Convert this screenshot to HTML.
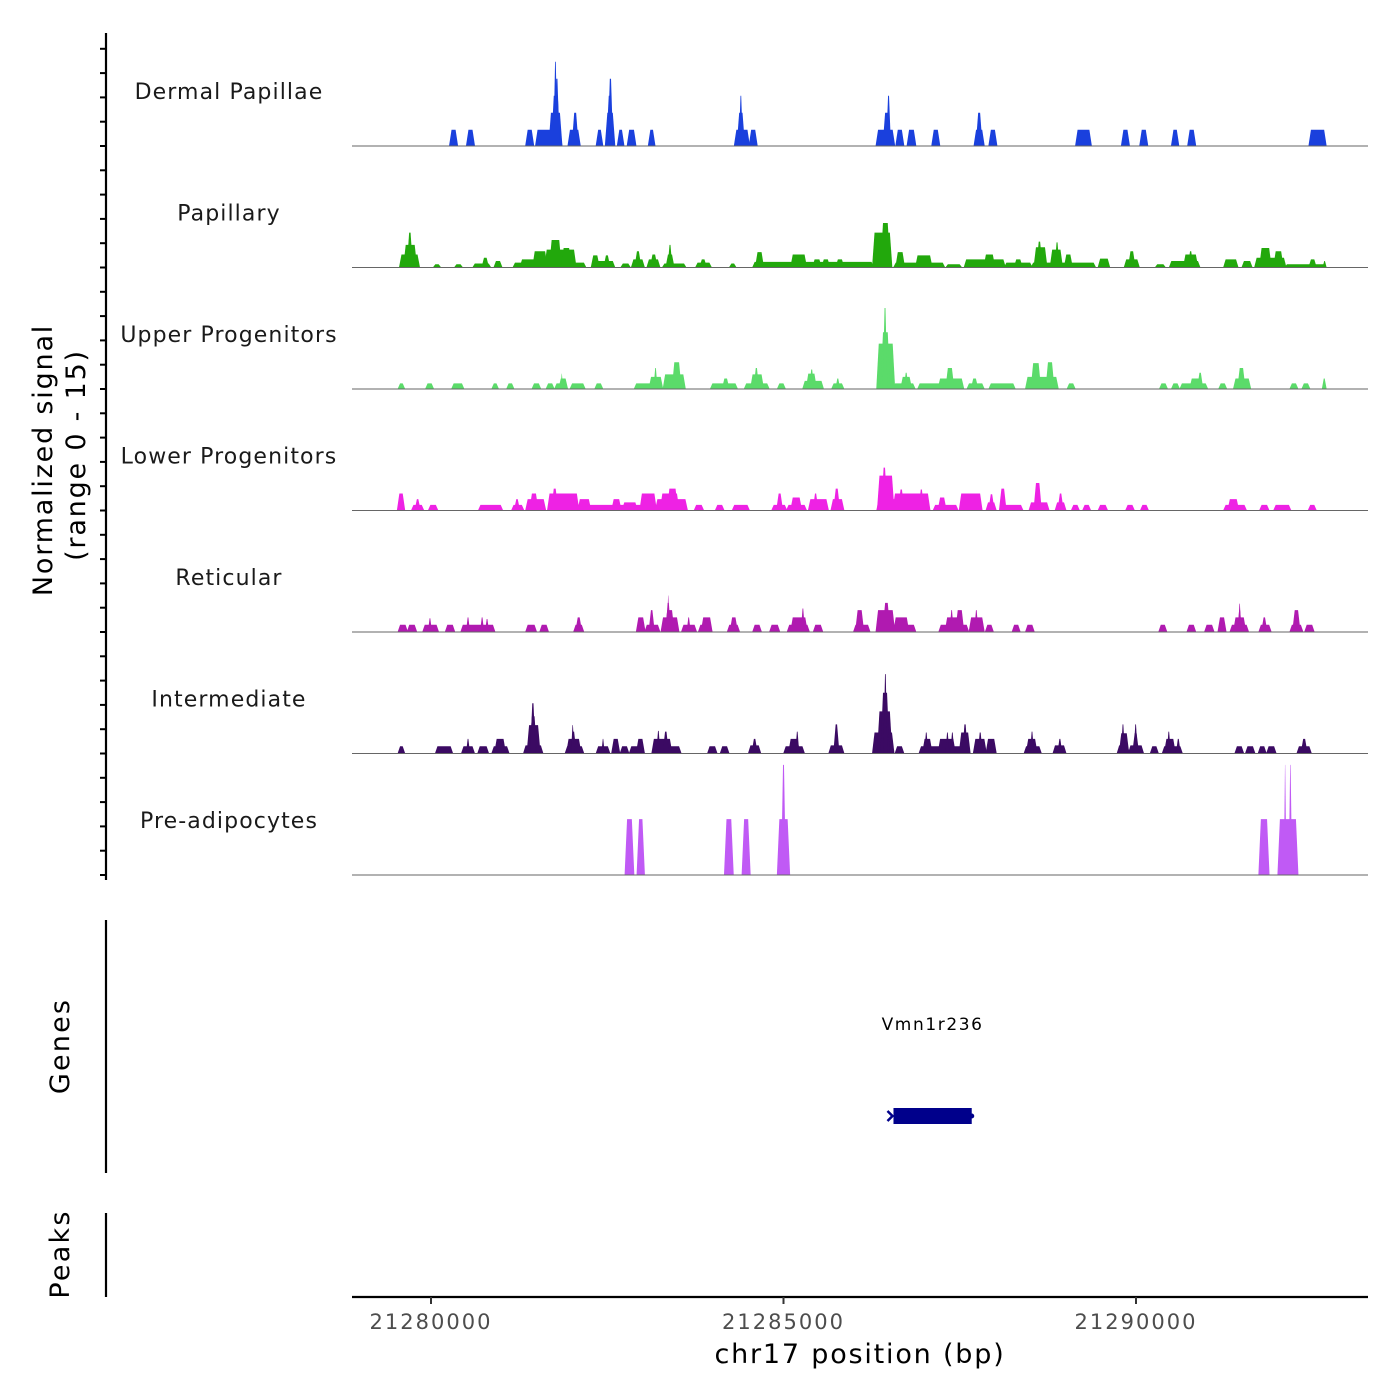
<!DOCTYPE html>
<html><head><meta charset="utf-8"><style>
body{margin:0;background:#fff;}
svg{display:block;font-family:"DejaVu Sans","Liberation Sans",sans-serif;}
</style></head><body>
<svg id="chart" width="1400" height="1400" viewBox="0 0 1400 1400" xmlns="http://www.w3.org/2000/svg"></svg>
<script>
const START_BP = 21280000;
const trackNames = ["Dermal Papillae","Papillary","Upper Progenitors","Lower Progenitors","Reticular","Intermediate","Pre-adipocytes"];
const trackColors = ["#1A40DD","#22A80C","#5BDB6A","#EE22E4","#B01AB0","#3B0A63","#C05AF5"];
const xTicks = [21280000,21285000,21290000];
const xTickLabels = ["21280000","21285000","21290000"];
const yRange = [0,15];
const yTickVals = [0,3,6,9,12,15];
const geneName = "Vmn1r236";
const geneStartKb = 6.56, geneEndKb = 7.67;
// segments: [start kb offset, end kb offset, signal]
const dermal = [[0.27,0.37,2],[0.51,0.61,2],[1.35,1.45,2],[1.49,1.85,2],[1.68,1.85,4.1],[1.72,1.82,6.2],[1.76,1.81,8.3],[1.75,1.78,10.4],[1.95,2.11,2],[2.01,2.08,4.1],[2.35,2.43,2],[2.48,2.60,4.1],[2.50,2.57,6.2],[2.52,2.57,8.3],[2.65,2.73,2],[2.79,2.90,2],[3.09,3.17,2],[4.31,4.51,2],[4.35,4.44,4.1],[4.38,4.41,6.2],[4.52,4.62,2],[6.32,6.57,2],[6.42,6.51,4.1],[6.47,6.51,6.2],[6.60,6.70,2],[6.76,6.87,2],[7.11,7.21,2],[7.71,7.84,2],[7.74,7.81,4.1],[7.92,8.02,2],[9.15,9.36,2],[9.80,9.90,2],[10.06,10.16,2],[10.51,10.60,2],[10.74,10.84,2],[12.46,12.69,2]];
const papillary = [[-0.44,-0.17,1.6],[-0.38,-0.21,2.8],[-0.33,-0.27,4.3],[0.04,0.13,0.4],[0.34,0.44,0.4],[0.60,0.84,0.5],[0.73,0.81,1.2],[0.90,1.00,0.8],[1.17,2.19,0.6],[1.27,1.62,1.0],[1.45,1.64,2.0],[1.62,2.05,2.2],[1.69,1.84,3.4],[1.86,1.98,2.4],[2.28,2.60,0.8],[2.28,2.38,1.5],[2.46,2.53,1.5],[2.70,2.82,0.5],[2.85,3.02,1.0],[2.90,2.97,2.0],[3.07,3.24,1.0],[3.12,3.20,1.6],[3.29,3.61,0.5],[3.34,3.44,1.6],[3.37,3.41,2.8],[3.76,3.97,0.6],[3.82,3.90,1.0],[4.24,4.32,0.5],[4.57,6.27,0.7],[4.61,4.71,1.9],[5.11,5.32,1.6],[5.42,5.53,1.0],[5.55,5.65,1.0],[5.75,5.85,1.0],[6.27,6.53,4.3],[6.39,6.50,5.5],[6.57,7.28,0.6],[6.60,6.71,1.9],[6.88,7.10,1.5],[7.31,7.52,0.4],[7.57,8.14,1.0],[7.85,7.99,1.6],[8.14,8.52,0.6],[8.28,8.38,1.0],[8.52,9.42,0.6],[8.56,8.73,2.5],[8.60,8.66,3.2],[8.79,8.95,2.2],[8.86,8.90,3.1],[8.99,9.09,1.6],[9.47,9.62,1.1],[9.84,10.04,1.0],[9.90,9.98,2.0],[10.28,10.41,0.4],[10.48,10.90,0.8],[10.68,10.87,1.6],[10.75,10.80,2.0],[11.25,11.44,1.0],[11.51,11.64,0.8],[11.69,12.12,1.2],[11.76,11.91,2.4],[11.96,12.08,2.0],[12.12,12.69,0.4],[12.46,12.55,1.0],[12.66,12.69,0.8]];
const upper = [[-0.46,-0.38,0.7],[-0.07,0.03,0.7],[0.30,0.46,0.7],[0.87,0.95,0.7],[1.08,1.17,0.7],[1.44,1.55,0.7],[1.64,1.74,0.7],[1.76,1.93,0.7],[1.82,1.93,1.3],[1.85,1.86,1.9],[1.98,2.18,0.7],[2.33,2.43,0.7],[2.89,3.26,0.7],[3.10,3.28,1.5],[3.17,3.20,2.6],[3.30,3.60,1.8],[3.43,3.54,3.3],[3.97,4.34,0.7],[4.14,4.22,1.3],[4.45,4.79,0.7],[4.54,4.71,1.8],[4.59,4.64,2.6],[4.92,5.02,0.7],[5.28,5.56,1.0],[5.33,5.46,1.9],[5.38,5.42,2.4],[5.69,5.85,0.7],[5.75,5.79,1.3],[6.33,6.57,5.6],[6.39,6.50,7.0],[6.42,6.46,10.0],[6.56,6.86,0.7],[6.67,6.81,1.5],[6.72,6.76,2.0],[6.91,7.55,0.7],[7.20,7.55,1.3],[7.31,7.41,2.6],[7.61,7.84,0.7],[7.67,7.75,1.3],[7.92,8.28,0.7],[8.44,8.89,1.5],[8.52,8.64,3.2],[8.73,8.83,3.3],[9.03,9.13,0.7],[10.34,10.44,0.7],[10.51,10.61,0.7],[10.63,11.01,0.7],[10.77,10.91,1.3],[10.88,10.94,2.0],[11.18,11.28,0.7],[11.39,11.62,1.3],[11.45,11.54,2.6],[12.19,12.29,0.7],[12.36,12.46,0.7],[12.65,12.69,1.3]];
const lower = [[-0.47,-0.38,2.1],[-0.27,-0.11,0.7],[-0.22,-0.16,1.4],[-0.03,0.09,0.7],[0.68,1.01,0.7],[1.15,1.31,0.7],[1.19,1.25,1.4],[1.35,1.62,1.4],[1.41,1.51,2.1],[1.66,3.63,0.7],[1.66,2.09,2.1],[1.72,1.79,2.7],[2.09,2.26,1.4],[2.57,2.69,1.4],[2.72,2.92,1.0],[2.97,3.19,2.1],[3.19,3.63,1.4],[3.26,3.51,2.1],[3.36,3.49,2.7],[3.74,3.86,0.7],[4.04,4.15,0.7],[4.28,4.51,0.7],[4.84,5.04,0.7],[4.91,4.98,2.1],[5.05,5.32,0.7],[5.11,5.25,1.6],[5.36,5.63,1.4],[5.43,5.48,2.1],[5.68,5.85,1.4],[5.72,5.79,2.7],[6.33,7.07,1.4],[6.34,6.56,4.3],[6.40,6.46,5.3],[6.56,7.07,2.1],[6.64,6.70,2.6],[6.93,6.98,2.6],[7.13,7.47,0.7],[7.20,7.30,1.6],[7.50,7.81,2.1],[7.88,8.01,1.0],[7.92,7.98,2.0],[8.07,8.39,0.7],[8.07,8.15,2.7],[8.49,8.76,1.0],[8.56,8.65,3.4],[8.86,9.00,1.0],[8.90,8.96,2.1],[9.09,9.19,0.7],[9.25,9.35,0.7],[9.47,9.59,0.7],[9.86,9.97,0.7],[10.07,10.17,0.7],[11.25,11.56,0.7],[11.31,11.45,1.4],[11.76,11.88,0.7],[11.96,12.19,0.7],[12.45,12.55,0.7]];
const reticular = [[-0.46,-0.34,0.9],[-0.33,-0.21,0.9],[-0.11,0.10,0.9],[-0.03,0.00,1.7],[0.21,0.33,0.9],[0.43,0.90,0.9],[0.51,0.54,1.8],[0.71,0.74,1.8],[0.78,0.81,1.6],[1.35,1.49,0.9],[1.55,1.66,0.9],[2.03,2.16,0.9],[2.06,2.13,1.8],[2.92,3.03,1.8],[3.04,3.24,0.9],[3.10,3.16,2.7],[3.27,3.51,1.8],[3.33,3.44,2.7],[3.34,3.39,3.6],[3.36,3.37,4.5],[3.56,3.76,0.9],[3.64,3.67,1.8],[3.80,3.98,0.9],[3.84,3.98,1.8],[4.21,4.37,0.9],[4.25,4.34,1.8],[4.57,4.68,0.9],[4.81,4.94,0.9],[5.06,5.36,0.9],[5.11,5.33,1.8],[5.26,5.29,2.9],[5.43,5.55,0.9],[6.00,6.22,0.9],[6.03,6.13,2.7],[6.32,6.87,0.9],[6.32,6.57,2.7],[6.42,6.50,3.6],[6.57,6.77,1.8],[7.21,7.62,0.9],[7.30,7.55,1.8],[7.37,7.40,2.7],[7.45,7.55,2.7],[7.64,7.84,1.8],[7.72,7.75,2.7],[7.87,7.97,0.9],[8.25,8.35,0.9],[8.44,8.55,0.9],[10.33,10.43,0.9],[10.73,10.84,0.9],[10.98,11.10,0.9],[11.17,11.27,1.8],[11.34,11.59,0.9],[11.39,11.55,1.8],[11.45,11.49,2.7],[11.46,11.48,3.5],[11.75,11.91,0.9],[11.79,11.85,1.8],[12.19,12.36,0.9],[12.23,12.32,2.7],[12.40,12.52,0.9]];
const intermediate = [[-0.46,-0.38,0.9],[0.07,0.30,0.9],[0.44,0.61,0.9],[0.51,0.54,1.8],[0.67,0.81,0.9],[0.87,1.10,0.9],[0.91,1.05,1.8],[1.32,1.58,1.0],[1.37,1.54,3.5],[1.41,1.49,4.6],[1.42,1.47,6.2],[1.91,2.16,0.9],[1.93,2.12,1.8],[1.99,2.05,2.7],[2.00,2.02,3.5],[2.35,2.53,0.9],[2.43,2.45,1.8],[2.57,2.67,1.8],[2.69,2.80,0.9],[2.82,3.02,0.9],[2.92,3.02,1.8],[3.14,3.54,0.9],[3.14,3.41,1.8],[3.21,3.24,2.8],[3.30,3.36,2.7],[3.93,4.05,0.9],[4.11,4.22,0.9],[4.51,4.67,1.0],[4.56,4.62,1.8],[5.01,5.29,0.9],[5.08,5.22,1.8],[5.18,5.21,2.7],[5.65,5.85,1.0],[5.72,5.78,3.6],[6.27,6.56,2.6],[6.34,6.53,5.2],[6.39,6.49,7.5],[6.43,6.46,9.8],[6.59,6.70,0.9],[6.93,7.64,0.9],[6.98,7.10,1.8],[7.01,7.04,2.6],[7.20,7.43,1.8],[7.31,7.34,2.6],[7.38,7.41,2.6],[7.50,7.64,2.6],[7.55,7.60,3.6],[7.70,7.87,1.8],[7.77,7.81,2.6],[7.88,8.01,1.8],[8.42,8.65,0.9],[8.45,8.59,1.8],[8.51,8.54,2.7],[8.83,9.00,1.0],[8.90,8.94,1.8],[9.74,9.90,1.0],[9.77,9.89,2.5],[9.80,9.83,3.6],[9.90,10.10,1.0],[9.96,10.03,2.5],[9.98,10.01,3.6],[10.21,10.31,0.9],[10.38,10.65,0.9],[10.41,10.55,1.8],[10.45,10.48,2.7],[10.58,10.62,1.8],[11.41,11.52,0.9],[11.56,11.68,0.9],[11.74,11.84,0.9],[11.86,11.98,0.9],[12.29,12.48,0.9],[12.35,12.42,1.8]];
const preadipo = [[2.76,2.87,6.9],[2.93,3.02,6.9],[4.17,4.28,6.9],[4.42,4.52,6.9],[4.92,5.08,6.9],[4.98,5.02,13.6],[11.75,11.88,6.9],[12.02,12.29,6.9],[12.11,12.12,13.6],[12.18,12.20,13.6]];
const trackData = [dermal,papillary,upper,lower,reticular,intermediate,preadipo];

const NS = "http://www.w3.org/2000/svg";
const svg = document.getElementById("chart");
const PX0 = 352, PX1 = 1368;
const firstBase = 146, trackH = 121.5;
function xScale(bp){ return 431 + (bp - 21280000) * (1136 - 431) / 10000; }
function kbToBp(k){ return START_BP + k * 1000; }
function yScale(v, base){ return base - (v - yRange[0]) / (yRange[1] - yRange[0]) * trackH; }
function mk(tag, attrs, parent){ const e = document.createElementNS(NS, tag); for (const k in attrs) e.setAttribute(k, attrs[k]); (parent || svg).appendChild(e); return e; }

trackNames.forEach(function(name, i){
  const base = firstBase + i * trackH;
  const g = mk("g", {});
  
  
  trackData[i].forEach(function(seg){
    const x0 = xScale(kbToBp(seg[0])), x1 = xScale(kbToBp(seg[1]));
    const yt = yScale(seg[2], base);
    const s = Math.min(1.5, (x1 - x0) / 3);
    const p = mk("polygon", {points: (x0 - 1) + "," + base + " " + (x0 + s) + "," + yt + " " + (x1 - s) + "," + yt + " " + (x1 + 1) + "," + base, fill: trackColors[i]}, g);
    
    
  });
  const bl = mk("line", {x1: PX0, x2: PX1, y1: base, y2: base, stroke: "#666", "stroke-width": 1});
  
  
  const t = mk("text", {x: 229, y: base - 47, "text-anchor": "middle", "font-size": 22, "letter-spacing": 1.1, fill: "#1a1a1a"});
  t.textContent = name;
  
  
  yTickVals.forEach(function(v){
    const y = yScale(v, base);
    if (y < 30) return;
    const tk = mk("line", {x1: 100, x2: 106, y1: y, y2: y, stroke: "#000", "stroke-width": 2});
    
    
  });
});

const ya = mk("line", {x1: 106, x2: 106, y1: 33, y2: 880, stroke: "#000", "stroke-width": 2.2});


const ga = mk("line", {x1: 106, x2: 106, y1: 920, y2: 1173, stroke: "#000", "stroke-width": 2.2});


const pa = mk("line", {x1: 106, x2: 106, y1: 1213, y2: 1297, stroke: "#000", "stroke-width": 2.2});



const yt1 = mk("text", {x: 0, y: 0, "text-anchor": "middle", "font-size": 27, "letter-spacing": 1.8, transform: "translate(52,460) rotate(-90)"});
yt1.textContent = "Normalized signal";


const yt2 = mk("text", {x: 0, y: 0, "text-anchor": "middle", "font-size": 27, "letter-spacing": 1.8, transform: "translate(85,455) rotate(-90)"});
yt2.textContent = "(range 0 - 15)";


const gt = mk("text", {x: 0, y: 0, "text-anchor": "middle", "font-size": 27, "letter-spacing": 2.2, transform: "translate(69,1046) rotate(-90)"});
gt.textContent = "Genes";


const pt = mk("text", {x: 0, y: 0, "text-anchor": "middle", "font-size": 27, "letter-spacing": 2.2, transform: "translate(69,1254) rotate(-90)"});
pt.textContent = "Peaks";



const gx0 = xScale(kbToBp(geneStartKb)), gx1 = xScale(kbToBp(geneEndKb));
const gr = mk("rect", {x: gx0, y: 1108, width: gx1 - gx0, height: 16, fill: "#00008B"});


const ga2 = mk("polyline", {points: (gx0 - 6) + ",1111 " + (gx0 - 1) + ",1116 " + (gx0 - 6) + ",1121", fill: "none", stroke: "#00008B", "stroke-width": 2.5});


const ga3 = mk("circle", {cx: gx1, cy: 1116, r: 2.5, fill: "#00008B"});


const gl = mk("text", {x: (gx0 + gx1) / 2, y: 1030, "text-anchor": "middle", "font-size": 17, "letter-spacing": 1.6, fill: "#000"});
gl.textContent = geneName;



const xa = mk("line", {x1: PX0, x2: PX1, y1: 1297, y2: 1297, stroke: "#000", "stroke-width": 2.2});


xTicks.forEach(function(v, i){
  const x = xScale(v);
  const tk = mk("line", {x1: x, x2: x, y1: 1297, y2: 1304, stroke: "#333", "stroke-width": 2});
  
  
  const tl = mk("text", {x: x, y: 1329, "text-anchor": "middle", "font-size": 21, "letter-spacing": 2, fill: "#4d4d4d"});
  tl.textContent = xTickLabels[i];
  
  
});
const xt = mk("text", {x: 860, y: 1363, "text-anchor": "middle", "font-size": 27, "letter-spacing": 1.8, fill: "#000"});
xt.textContent = "chr17 position (bp)";


</script>
</body></html>
